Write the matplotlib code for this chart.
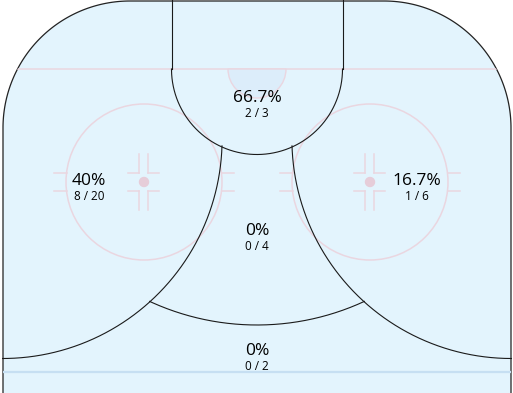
import numpy as np
import matplotlib.pyplot as plt
from matplotlib.patches import Polygon, Circle, Wedge

plt.rcParams['font.family'] = ['Open Sans', 'DejaVu Sans']

# Данные по зонам
zones = ['slot', 'left_circle', 'right_circle', 'high_slot', 'point']
made = [2, 8, 1, 0, 0]
attempts = [3, 20, 6, 4, 2]
label_x = [257, 89, 417, 257, 257]
label_y = [102, 185, 185, 235, 355]

# Цвета
ice = '#e3f4fd'
pink = '#ead6e0'
blue_line = '#c6dff2'
crease_fill = '#dcedfa'

W, H = 513, 393
fig = plt.figure(figsize=(W / 100, H / 100), dpi=100)
ax = fig.add_axes([0, 0, 1, 1])
ax.set_xlim(0, W)
ax.set_ylim(H, 0)
ax.axis('off')


def arc(cx, cy, r, a0, a1, n=200):
    t = np.radians(np.linspace(a0, a1, n))
    return cx + r * np.cos(t), cy + r * np.sin(t)


# Контур площадки (скругленные углы)
left, right, top, rad = 3, 511, 1, 127
x1, y1 = arc(left + rad, top + rad, rad, 180, 270)
x2, y2 = arc(right - rad, top + rad, rad, 270, 360)
px = np.concatenate([[left], x1, x2, [right]])
py = np.concatenate([[H + 20], y1, y2, [H + 20]])
rink = Polygon(np.column_stack([px, py]), closed=True, facecolor=ice,
               edgecolor='#222222', lw=0.9, zorder=1)
ax.add_patch(rink)

# Линия ворот
gl, = ax.plot([0, W], [69, 69], color=pink, lw=1.1, zorder=2)
gl.set_clip_path(rink)

# Вратарская
ax.add_patch(Wedge((257, 69), 29, 0, 180, facecolor=crease_fill,
                   edgecolor=pink, lw=1.0, zorder=2))

# Синяя линия
bl, = ax.plot([0, W], [372, 372], color=blue_line, lw=1.6, zorder=2)
bl.set_clip_path(rink)

# Круги вбрасывания
for cx in [144, 370]:
    ax.add_patch(Circle((cx, 182), 78, fill=False, edgecolor=pink, lw=1.1, zorder=2))
    ax.add_patch(Circle((cx, 182), 4.5, color='#e6cdd9', zorder=2))
    for yy in [173, 191]:
        ax.plot([cx - 90, cx - 77.5], [yy, yy], color=pink, lw=1.1, zorder=2)
        ax.plot([cx + 77.5, cx + 90], [yy, yy], color=pink, lw=1.1, zorder=2)
        ax.plot([cx - 16, cx - 5], [yy, yy], color=pink, lw=1.1, zorder=2)
        ax.plot([cx + 4, cx + 15], [yy, yy], color=pink, lw=1.1, zorder=2)
    for xx in [cx - 5, cx + 4]:
        ax.plot([xx, xx], [154, 173], color=pink, lw=1.1, zorder=2)
        ax.plot([xx, xx], [191, 210], color=pink, lw=1.1, zorder=2)

# Границы зон
zc = dict(color='#1a1a1a', lw=0.8, zorder=3)
ax.plot([171.5, 171.5], [0, 69], **zc)
ax.plot([342.5, 342.5], [0, 69], **zc)
ax.plot(*arc(257, 69, 85.5, 0, 180), **zc)
ax.plot(*arc(257, 69, 256, 65.2, 114.8), **zc)
ax.plot(*arc(2.6, 139, 219.5, 1.8, 90), **zc)
ax.plot(*arc(511.4, 139, 219.5, 90, 178.2), **zc)

# Подписи
for m, a, x, y in zip(made, attempts, label_x, label_y):
    pct = f'{100 * m / a:.1f}'.rstrip('0').rstrip('.')
    ax.text(x, y, pct + '%', ha='center', va='baseline', fontsize=12.5,
            color='black', zorder=4)
    ax.text(x, y + 15, f'{m} / {a}', ha='center', va='baseline', fontsize=8.5,
            color='black', zorder=4)

fig.savefig('out.png', dpi=100, facecolor='white')
